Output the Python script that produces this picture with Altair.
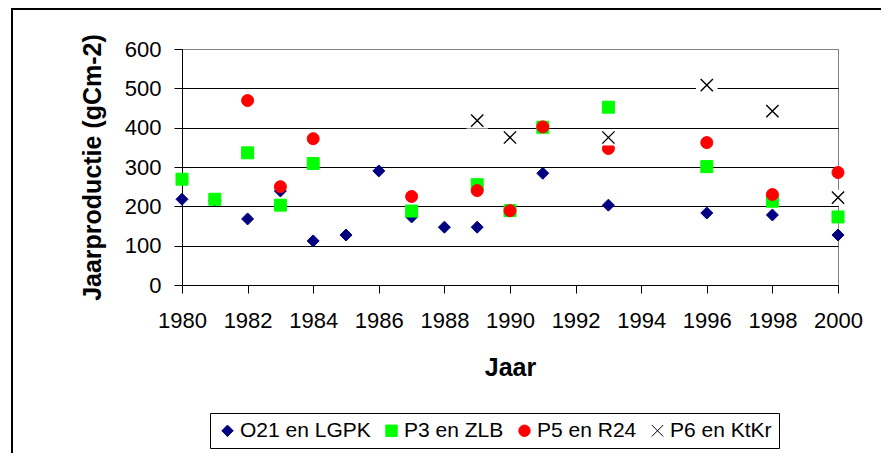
import altair as alt
import pandas as pd

series = ["O21 en LGPK", "P3 en ZLB", "P5 en R24", "P6 en KtKr"]

o21_years = [1980, 1981, 1982, 1983, 1984, 1985, 1986, 1987, 1988, 1989, 1991, 1993, 1996, 1998, 2000]
o21_vals = [218, 215, 168, 239, 112, 127, 290, 173, 147, 147, 284, 203, 183, 178, 127]

p3_years = [1980, 1981, 1982, 1983, 1984, 1987, 1989, 1990, 1991, 1993, 1996, 1998, 2000]
p3_vals = [269, 218, 336, 203, 309, 188, 255, 189, 401, 452, 301, 213, 173]

p5_years = [1982, 1983, 1984, 1987, 1989, 1990, 1991, 1993, 1996, 1998, 2000]
p5_vals = [469, 250, 372, 225, 240, 189, 402, 347, 362, 230, 286]

p6_years = [1989, 1990, 1993, 1996, 1998, 2000]
p6_vals = [418, 375, 375, 508, 442, 222]

x_ticks = list(range(1980, 2001, 2))
y_ticks = list(range(0, 601, 100))

rows = []
for name, yrs, vals in zip(series, [o21_years, p3_years, p5_years, p6_years],
                           [o21_vals, p3_vals, p5_vals, p6_vals]):
    for yr, v in zip(yrs, vals):
        rows.append({"Jaar": yr, "Waarde": v, "Reeks": name})
df = pd.DataFrame(rows)
df_p6 = df[df["Reeks"] == series[3]]

FONT = "Liberation Sans"
XPATH = "M-1,-1L1,1M-1,1L1,-1"
HALO = "M-1.35,-1L1.35,-1L1.35,1L-1.35,1Z"

x_scale = alt.Scale(domain=[1980, 2000], nice=False, zero=False)
y_scale = alt.Scale(domain=[0, 600], nice=False)

x_axis = alt.Axis(values=x_ticks, format="d", title="Jaar", grid=False,
                  tickSize=8, labelPadding=17, labelFontSize=22,
                  labelFlush=False, labelOverlap=False,
                  titleFontSize=25, titleFontWeight="bold",
                  titleX=328, titleY=90, titleBaseline="alphabetic", titleAlign="center")
y_axis = alt.Axis(values=y_ticks, title="Jaarproductie (gCm-2)", grid=True,
                  gridColor={"condition": {"test": "datum.value === 600", "value": "#808080"}, "value": "black"},
                  gridWidth=1, tickSize=8, labelPadding=13, labelFontSize=22,
                  labelFlush=False, labelOverlap=False,
                  titleFontSize=25, titleFontWeight="bold",
                  titleX=-82, titleY=118, titleBaseline="alphabetic", titleAlign="center", titleAngle=270)

x_enc = alt.X("Jaar:Q", scale=x_scale, axis=x_axis)
y_enc = alt.Y("Waarde:Q", scale=y_scale, axis=y_axis)

leg = alt.Legend(title=None, orient="none", legendX=28, legendY=364, direction="horizontal",
                 strokeColor="black", padding=7, labelFontSize=21, labelFont=FONT,
                 labelColor="black", symbolSize=130, symbolStrokeWidth=1,
                 columnPadding=10, labelOffset=2, fillColor="white")

one = pd.DataFrame({"k": [0]})
frame_top = alt.Chart(one).mark_rule(color="black", strokeWidth=2).encode(
    x=alt.value(-170), x2=alt.value(720), y=alt.value(-40))
frame_left = alt.Chart(one).mark_rule(color="black", strokeWidth=2).encode(
    x=alt.value(-170), y=alt.value(-41), y2=alt.value(460))

points = alt.Chart(df).mark_point(size=144, strokeWidth=1, opacity=1).encode(
    x=x_enc,
    y=y_enc,
    fill=alt.Fill("Reeks:N", scale=alt.Scale(domain=series, range=["#000080", "#00FF00", "#FF0000", "transparent"]), legend=leg),
    stroke=alt.Stroke("Reeks:N", scale=alt.Scale(domain=series, range=["#000080", "#00FF00", "#FF0000", "black"]), legend=leg),
    shape=alt.Shape("Reeks:N", scale=alt.Scale(domain=series, range=["diamond", "square", "circle", XPATH]), legend=leg),
)

halo = alt.Chart(df_p6).mark_point(shape=HALO, size=256, filled=True, fill="white", strokeWidth=0, opacity=1).encode(
    x=x_enc, y=y_enc,
)

crosses = alt.Chart(df_p6).mark_point(shape=XPATH, size=150, stroke="black", strokeWidth=1.4, fill="transparent", opacity=1).encode(
    x=x_enc, y=y_enc,
)

chart = alt.layer(frame_top, frame_left, points, halo, crosses).properties(
    width=656, height=236,
    autosize=alt.AutoSizeParams(type="none"),
    padding={"left": 174, "top": 41, "right": 43, "bottom": 168},
    background="white",
).configure_axis(
    labelFont=FONT, titleFont=FONT, labelColor="black", titleColor="black",
    domainColor="black", tickColor="black", domainWidth=1, tickWidth=1,
).configure_view(stroke="#808080", strokeWidth=1)

chart.save("out.html", embed_options={"renderer": "svg", "actions": False})
